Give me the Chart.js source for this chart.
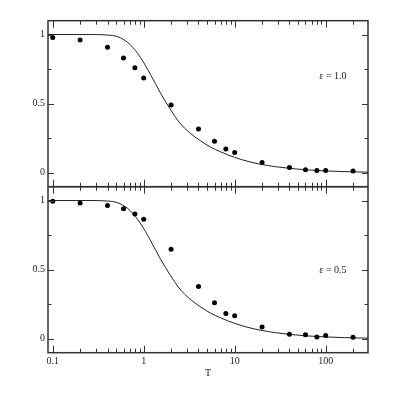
<!DOCTYPE html>
<html>
<head>
<meta charset="utf-8">
<script src="https://cdn.jsdelivr.net/npm/chart.js@4"></script>
<style>
    body { margin: 0; background: #fff; }
    .wrap { position: relative; width: 415px; height: 415px; }
    .wrap canvas { position: absolute; left: 0; top: 0; }
</style>
</head>
<body>
<div class="wrap">
    <canvas id="bottomPanel" width="415" height="415"></canvas>
    <canvas id="topPanel" width="415" height="415"></canvas>
</div>
<script>
// temperatures of the simulated points
const tValues = [0.1, 0.2, 0.4, 0.6, 0.8, 1, 2, 4, 6, 8, 10, 20, 40, 60, 80, 100, 200];
const eps10 = [0.978, 0.961, 0.908, 0.831, 0.759, 0.686, 0.491, 0.318, 0.229, 0.173, 0.147, 0.075, 0.039, 0.022, 0.017, 0.017, 0.014];
const eps05 = [0.995, 0.983, 0.964, 0.94, 0.903, 0.865, 0.647, 0.379, 0.261, 0.183, 0.167, 0.085, 0.034, 0.029, 0.014, 0.024, 0.012];

// theory curve
const curveT = [0.0887, 0.25, 0.43, 0.55, 0.71, 0.92, 1.18, 1.52, 1.96, 2.5, 3.2, 4.2, 5.4, 7, 10, 14, 19, 28, 41, 60, 100, 160, 292];
const curveY = [1.0, 1.0, 0.995, 0.977, 0.927, 0.835, 0.714, 0.58, 0.46, 0.36, 0.29, 0.232, 0.187, 0.152, 0.112, 0.083, 0.063, 0.045, 0.032, 0.022, 0.014, 0.009, 0.005];

const xTicks = [0.1, 0.2, 0.3, 0.4, 0.5, 0.6, 0.7, 0.8, 0.9, 1, 2, 3, 4, 5, 6, 7, 8, 9, 10, 20, 30, 40, 50, 60, 70, 80, 90, 100, 200];
const xMajors = [0.1, 1, 10, 100];
const yTicks = [0, 0.25, 0.5, 0.75, 1];
const yMajors = [0, 0.5, 1];

const xMin = 0.0887;
const xMax = 292;
const serif = { family: '"Liberation Serif", "Times New Roman", serif', size: 10 };
const ink = '#222';

const framePlugin = {
    id: 'frame',
    afterDatasetsDraw(chart, args, opts) {
        const ctx = chart.ctx;
        const a = chart.chartArea;
        const xs = chart.scales.x;
        const ys = chart.scales.y;
        ctx.save();
        ctx.strokeStyle = '#333';
        ctx.lineWidth = 1.5;
        ctx.strokeRect(a.left, a.top, a.right - a.left, a.bottom - a.top);

        ctx.lineWidth = 1;
        ctx.beginPath();
        xs.ticks.forEach(t => {
            const px = Math.round(xs.getPixelForValue(t.value)) + 0.5;
            const len = xMajors.includes(t.value) ? 7 : 4;
            ctx.moveTo(px, a.top);
            ctx.lineTo(px, a.top + len);
            ctx.moveTo(px, a.bottom);
            ctx.lineTo(px, a.bottom - len);
        });
        ys.ticks.forEach(t => {
            const py = Math.round(ys.getPixelForValue(t.value)) + 0.5;
            const len = yMajors.includes(t.value) ? 6 : 3.5;
            ctx.moveTo(a.left, py);
            ctx.lineTo(a.left + len, py);
            ctx.moveTo(a.right, py);
            ctx.lineTo(a.right - len, py);
        });
        ctx.stroke();

        ctx.fillStyle = ink;
        ctx.font = '10px "Liberation Serif", serif';
        ctx.textAlign = 'center';
        ctx.textBaseline = 'middle';
        ctx.fillText(opts.label, xs.getPixelForValue(120), ys.getPixelForValue(opts.labelY));
        ctx.restore();
    }
};

function makeChart(id, values, label, labelY, isBottom) {
    const ctx = document.getElementById(id).getContext('2d');
    return new Chart(ctx, {
        type: 'scatter',
        data: {
            datasets: [{
                data: tValues.map((t, i) => ({ x: t, y: values[i] })),
                backgroundColor: '#000',
                borderColor: '#000',
                pointRadius: 2.5,
                pointBorderWidth: 0
            }, {
                type: 'line',
                data: curveT.map((t, i) => ({ x: t, y: curveY[i] })),
                borderColor: ink,
                borderWidth: 1,
                pointRadius: 0,
                cubicInterpolationMode: 'monotone',
                fill: false
            }]
        },
        options: {
            responsive: false,
            animation: false,
            layout: {
                padding: isBottom
                    ? { left: 0, top: 186.7, right: 47, bottom: 0 }
                    : { left: 0, top: 20.7, right: 47, bottom: 228.3 }
            },
            plugins: {
                legend: { display: false },
                tooltip: { enabled: false },
                frame: { label: label, labelY: labelY }
            },
            scales: {
                x: {
                    type: 'logarithmic',
                    min: xMin,
                    max: xMax,
                    grid: { display: false, drawTicks: false },
                    border: { display: false },
                    afterBuildTicks: s => {
                        s.ticks = xTicks.map(v => ({ value: v, major: xMajors.includes(v) }));
                    },
                    afterFit: s => { s.height = isBottom ? 62.3 : 0; },
                    ticks: {
                        display: isBottom,
                        autoSkip: false,
                        maxRotation: 0,
                        padding: 3,
                        color: ink,
                        font: serif,
                        callback: v => xMajors.includes(v) ? String(v) : ''
                    },
                    title: {
                        display: isBottom,
                        text: 'T',
                        color: ink,
                        font: serif,
                        padding: { top: 0, bottom: 36 }
                    }
                },
                y: {
                    min: -0.1,
                    max: 1.1,
                    grid: { display: false, drawTicks: false },
                    border: { display: false },
                    afterBuildTicks: s => {
                        s.ticks = yTicks.map(v => ({ value: v }));
                    },
                    afterFit: s => { s.width = 48; },
                    ticks: {
                        padding: 3,
                        color: ink,
                        font: serif,
                        callback: v => yMajors.includes(v) ? String(v) : ''
                    }
                }
            }
        },
        plugins: [framePlugin]
    });
}

makeChart('topPanel', eps10, 'ε = 1.0', 0.70, false);
makeChart('bottomPanel', eps05, 'ε = 0.5', 0.495, true);
</script>
</body>
</html>
